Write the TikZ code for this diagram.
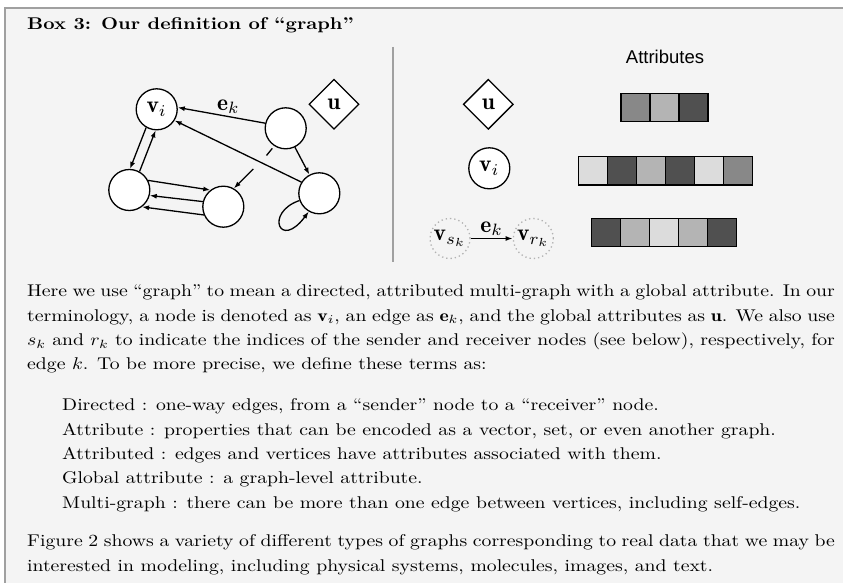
\documentclass[tikz,border=0pt]{standalone}
\usepackage{graphicx}
\usepackage{fontspec}
\newfontfamily\attrfont{Liberation Sans}
\usetikzlibrary{arrows.meta,positioning,shapes.geometric}
\definecolor{BoxBack}{HTML}{F4F4F4}
\definecolor{BoxLine}{HTML}{A0A0A0}
\definecolor{CellDark}{HTML}{505050}
\definecolor{CellMid}{HTML}{888888}
\definecolor{CellSoft}{HTML}{B4B4B4}
\definecolor{CellPale}{HTML}{DCDCDC}
\newcommand{\boxtext}[2]{\scalebox{1.97}[1.7]{\parbox[t]{#1}{\fontsize{10}{14.35}\selectfont #2}}}
\newcommand{\glyph}[1]{\scalebox{2.35}{$#1$}}

\begin{document}
\begin{tikzpicture}[x=1pt,y=-1pt,>={Latex[length=7pt,width=5pt]},
  vert/.style={circle,draw,fill=white,line width=1.3pt,minimum size=41pt,inner sep=0pt},
  glob/.style={diamond,draw,fill=white,line width=1.3pt,minimum size=50pt,inner sep=0pt},
  ghost/.style={circle,draw=gray!60,line width=1.3pt,dash pattern=on 1.3pt off 3pt,minimum size=40pt,inner sep=0pt},
  cell/.style={draw,line width=1.3pt,minimum width=29pt,minimum height=28.5pt,inner sep=0pt},
  txt/.style={anchor=base west,inner sep=0pt},
  link/.style={->,line width=1.3pt}]
\useasboundingbox (0,0) rectangle (843,583);
\fill[white] (0,0) rectangle (843,583);
\fill[BoxBack] (5,8) rectangle (843,583);
\draw[BoxLine,line width=1.5pt] (843,8) -- (5,8) -- (5,583);

\node[txt] (title) at (27,29.3) {\boxtext{300pt}{\bfseries Box 3: Our definition of “graph”}};

% left: example graph
\node[vert] (vi) at (156.7,109.3) {\glyph{\mathbf{v}_i}};
\node[vert] (va) at (285.7,128.3) {};
\node[vert] (vb) at (129.3,190) {};
\node[vert] (vc) at (223.3,206.7) {};
\node[vert] (vd) at (319.3,193.3) {};
\node[glob] (u) at (334,104.3) {\glyph{\mathbf{u}}};
\coordinate (outa) at (266.5,155.5);
\coordinate (inc) at (253.3,169);

\draw[link] (va.166) -- node[above,pos=.42,inner sep=2pt] {\glyph{\mathbf{e}_k}} (vi.5);
\draw[link] (vd.148) -- (vi.-32);
\draw[link] (va.-64) -- (vd.118);
\draw[link] (vi.-120) -- (vb.88);
\draw[link] (vb.61) -- (vi.-93);
\draw[link] (vb.27) -- (vc.128);
\draw[link] (vc.166) -- (vb.-15);
\draw[link] (vc.203) -- (vb.-53);
\draw[link] (vd.200) .. controls +(-35,12) and +(-29,39) .. (vd.-120);
\draw[line width=1.3pt,shorten <=3pt] (va.-123) -- (outa);
\draw[link] (inc) -- (vc.60);

\coordinate (dtop) at (393,47);
\coordinate (dbot) at (393,262);
\draw[BoxLine,line width=1.5pt] (dtop) -- (dbot);

% right: attributes
\node[font=\attrfont\fontsize{18.5}{22}\selectfont] (attr) at (665,56.7) {Attributes};
\node[glob] (ug) at (488.3,104.3) {\glyph{\mathbf{u}}};
\node[vert] (vg) at (489.3,168.3) {\glyph{\mathbf{v}_i}};
\node[ghost] (vs) at (450,238.5) {\glyph{\mathbf{v}_{s_k}}};
\node[ghost] (vr) at (533.3,238.5) {\glyph{\mathbf{v}_{r_k}}};
\draw[link] (vs) -- node[above,inner sep=2pt] {\glyph{\mathbf{e}_k}} (vr);

\foreach \c [count=\i] in {CellMid,CellSoft,CellDark}
  \node[cell,fill=\c] (ucell\i) at ({621+29*(\i-.5)},107.5) {};
\foreach \c [count=\i] in {CellPale,CellDark,CellSoft,CellDark,CellPale,CellMid}
  \node[cell,fill=\c] (vcell\i) at ({578.3+29*(\i-.5)},170.8) {};
\foreach \c [count=\i] in {CellDark,CellSoft,CellPale,CellSoft,CellDark}
  \node[cell,fill=\c] (ecell\i) at ({591.7+29*(\i-.5)},232.5) {};

% text
\node[txt] (para1) at (27,296.7) {\boxtext{410pt}{Here we use “graph” to mean a directed, attributed multi-graph with a global attribute. In our\linebreak
terminology, a node is denoted as $\mathbf{v}_i$, an edge as $\mathbf{e}_k$, and the global attributes as $\mathbf{u}$. We also use\linebreak
$s_k$ and $r_k$ to indicate the indices of the sender and receiver nodes (see below), respectively, for\linebreak
edge $k$. To be more precise, we define these terms as:}};
\node[txt] (defs) at (62,410.7) {\boxtext{400pt}{Directed : one-way edges, from a “sender” node to a “receiver” node.\\
Attribute : properties that can be encoded as a vector, set, or even another graph.\\
Attributed : edges and vertices have attributes associated with them.\\
Global attribute : a graph-level attribute.\\
Multi-graph : there can be more than one edge between vertices, including self-edges.}};
\node[txt] (para2) at (27,546.7) {\boxtext{410pt}{Figure 2 shows a variety of different types of graphs corresponding to real data that we may be\linebreak
interested in modeling, including physical systems, molecules, images, and text.}};
\end{tikzpicture}
\end{document}
